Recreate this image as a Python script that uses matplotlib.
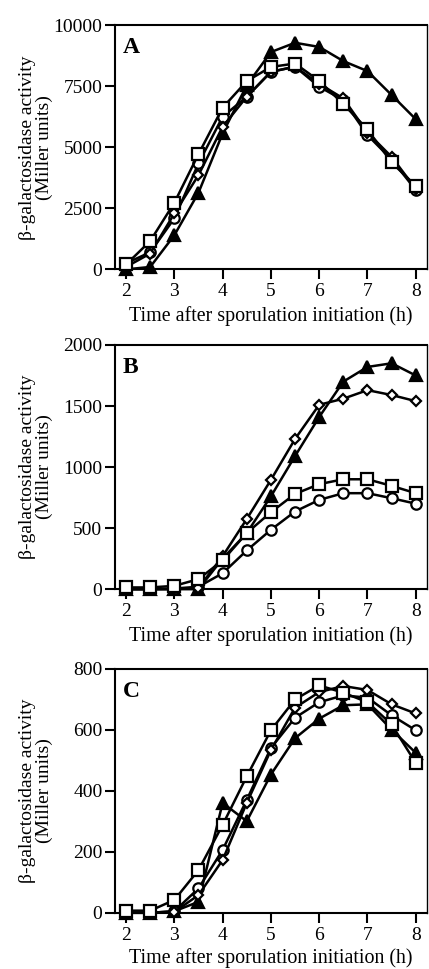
import matplotlib
matplotlib.use("Agg")
import matplotlib.pyplot as plt

# --- data ---
hours = [2, 2.5, 3, 3.5, 4, 4.5, 5, 5.5, 6, 6.5, 7, 7.5, 8]

a_triangle = [0, 100, 1400, 3140, 5570, 7540, 8900, 9280, 9110, 8530, 8120, 7140, 6150]
a_square = [200, 1160, 2730, 4720, 6620, 7710, 8290, 8430, 7720, 6770, 5730, 4380, 3420]
a_circle = [250, 700, 2090, 4340, 6250, 7070, 8090, 8300, 7480, 6930, 5500, 4500, 3250]
a_diamond = [100, 650, 2290, 3860, 5840, 7070, 8090, 8300, 7600, 7000, 5600, 4610, 3300]

b_triangle = [0, 0, 0, 0, 250, 460, 760, 1090, 1410, 1700, 1820, 1850, 1750]
b_diamond = [0, 0, 0, 10, 270, 575, 895, 1230, 1510, 1560, 1630, 1590, 1540]
b_square = [14, 14, 27, 82, 235, 460, 630, 780, 860, 900, 900, 846, 786]
b_circle = [0, 0, 5, 20, 130, 317, 486, 636, 731, 786, 786, 745, 700]

c_square = [7, 7, 42, 140, 288, 447, 598, 699, 745, 721, 690, 617, 491]
c_triangle = [0, 0, 5, 36, 360, 300, 453, 572, 636, 680, 683, 600, 524]
c_circle = [0, 0, 5, 80, 206, 370, 540, 639, 690, 712, 705, 647, 598]
c_diamond = [0, 0, 3, 58, 173, 360, 533, 672, 723, 743, 730, 683, 653]

panels = [
    ("A", 10000, [0, 2500, 5000, 7500, 10000],
     [("^", a_triangle), ("o", a_circle), ("D", a_diamond), ("s", a_square)]),
    ("B", 2000, [0, 500, 1000, 1500, 2000],
     [("^", b_triangle), ("o", b_circle), ("D", b_diamond), ("s", b_square)]),
    ("C", 800, [0, 200, 400, 600, 800],
     [("^", c_triangle), ("o", c_circle), ("D", c_diamond), ("s", c_square)]),
]

plt.rcParams['font.family'] = ['Liberation Serif', 'DejaVu Serif']

fig = plt.figure(figsize=(4.29, 9.69), dpi=100)
fig.patch.set_facecolor('white')

# axes boxes in figure fractions: left, bottom, width, height
boxes = [
    (0.268, 0.722, 0.727, 0.252),
    (0.268, 0.392, 0.727, 0.252),
    (0.268, 0.058, 0.727, 0.252),
]
xlabel_pads = [4, 4, 3]

marker_style = {
    "^": dict(markersize=8.5, markerfacecolor='black'),
    "o": dict(markersize=7.5, markerfacecolor='white'),
    "D": dict(markersize=5.5, markerfacecolor='white'),
    "s": dict(markersize=8, markerfacecolor='white'),
}

for (letter, ymax, yticks, series), box, xpad in zip(panels, boxes, xlabel_pads):
    ax = fig.add_axes(box)
    for marker, values in series:
        ax.plot(hours, values, color='black', lw=1.8, marker=marker,
                markeredgecolor='black', markeredgewidth=1.6,
                clip_on=False, zorder=3, **marker_style[marker])
    ax.set_xlim(1.77, 8.23)
    ax.set_ylim(0, ymax)
    ax.set_xticks([2, 3, 4, 5, 6, 7, 8])
    ax.set_yticks(yticks)
    ax.tick_params(direction='out', length=7, width=1.5, labelsize=14,
                   top=False, right=False)
    ax.tick_params(axis='x', pad=3)
    ax.tick_params(axis='y', pad=2)
    for side in ['left', 'bottom', 'top']:
        ax.spines[side].set_linewidth(1.5)
    ax.spines['right'].set_linewidth(1.0)
    ax.set_xlabel("Time after sporulation initiation (h)", fontsize=14.4,
                  labelpad=xpad)
    ax.set_ylabel("β-galactosidase activity\n(Miller units)", fontsize=14,
                  linespacing=1.0)
    ax.yaxis.set_label_coords(-0.198, 0.5)
    ax.text(0.025, 0.95, letter, transform=ax.transAxes, fontsize=17,
            fontweight='bold', va='top', ha='left')

fig.savefig("out.png", dpi=100)
